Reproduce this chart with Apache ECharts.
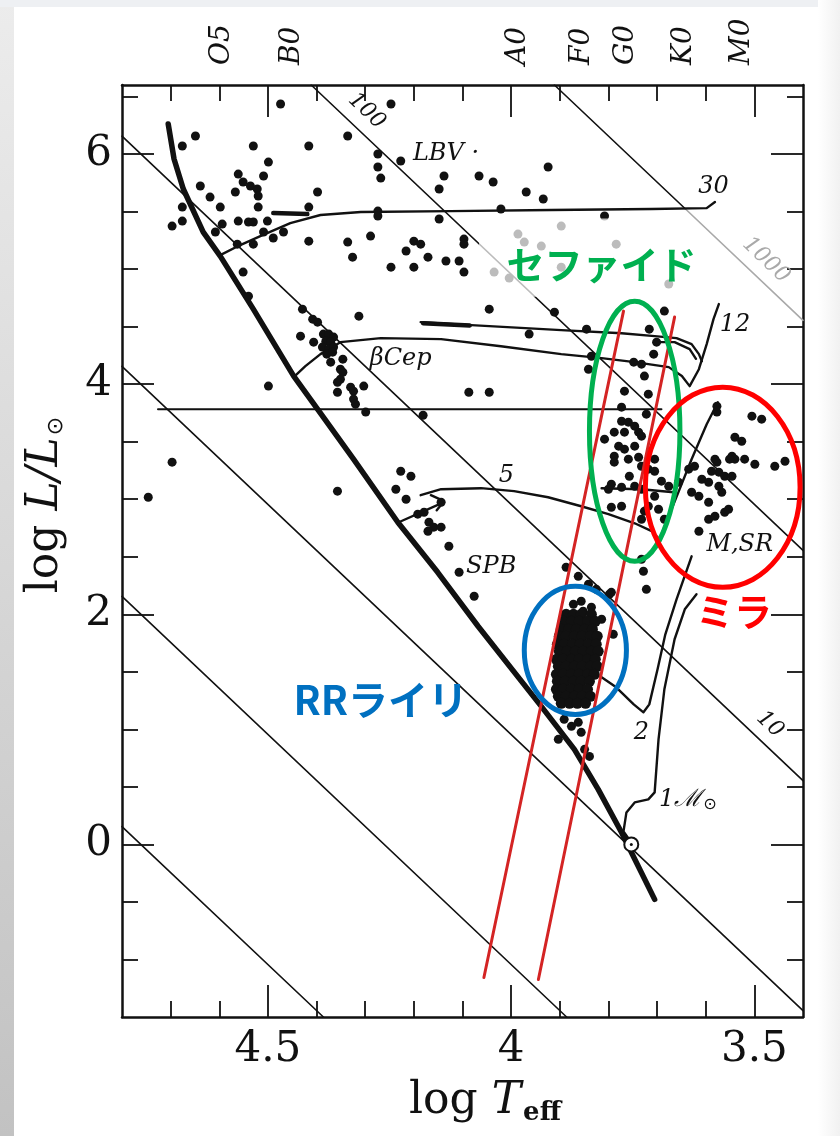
<!DOCTYPE html>
<html><head><meta charset="utf-8">
<script src="https://cdn.jsdelivr.net/npm/echarts@6/dist/echarts.min.js"></script>
<style>
html,body{margin:0;padding:0;background:#fff;}
#wrap{position:relative;width:840px;height:1136px;overflow:hidden;background:#fff;}
#lstrip{position:absolute;left:0;top:0;width:14px;height:1136px;background:linear-gradient(#ececec,#c2c2c2);}
#tstrip{position:absolute;left:0;top:0;width:840px;height:7px;background:#eef0f3;}
#rstrip{position:absolute;right:0;top:0;width:22px;height:1136px;background:linear-gradient(90deg,#ffffff,#f1f1f1);}
#chart{position:absolute;left:0;top:0;width:840px;height:1136px;}
</style></head>
<body><div id="wrap"><div id="lstrip"></div><div id="tstrip"></div><div id="rstrip"></div><div id="chart"></div></div>
<script>
// ---------- axis ticks & labels ----------
const xMajorTicks = [3.5, 4.0, 4.5];
const xMinorTicks = [3.6, 3.7, 3.8, 3.9, 4.1, 4.2, 4.3, 4.4, 4.6, 4.7];
const yMajorTicks = [0, 2, 4, 6];
const yMinorTicks = [-1, -0.5, 0.5, 1, 1.5, 2.5, 3, 3.5, 4.5, 5, 5.5, 6.5];
const spectralTypes = ['O5', 'B0', 'A0', 'F0', 'G0', 'K0', 'M0'];
const spectralLogT = [4.594, 4.452, 3.987, 3.854, 3.764, 3.645, 3.526];

// ---------- constant-radius lines [logT, logL] ----------
const radiusLines = [
  [[4.8, 0.155], [4.386, -1.5]],
  [[4.8, 2.155], [3.886, -1.5]],
  [[4.8, 4.155], [3.4, -1.445]],
  [[4.8, 6.155], [3.4, 0.555]],
  [[4.411, 6.6], [3.4, 2.555]],
  [[3.911, 6.6], [3.641, 5.52]]
];
const radius1000Faint = [[3.641, 5.52], [3.4, 4.555]];
const horizLine = [[4.726, 3.783], [3.691, 3.783]];

// ---------- ZAMS & tracks ----------
const zams = [[4.705,6.261],[4.693,5.957],[4.674,5.696],[4.633,5.322],[4.598,5.113],[4.530,4.652],[4.447,4.070],[4.398,3.783],[4.324,3.348],[4.233,2.800],[4.151,2.365],[4.068,1.896],[3.938,1.200],[3.870,0.826],[3.821,0.478],[3.773,0.104],[3.705,-0.478]];
const track30 = [[4.598,5.122],[4.557,5.209],[4.511,5.296],[4.454,5.400],[4.392,5.470],[4.309,5.496],[4.124,5.504],[3.918,5.513],[3.711,5.522],[3.598,5.530],[3.581,5.583]];
const track30Wedge = [[4.489,5.487],[4.419,5.478]];
const track12 = [[4.447,4.061],[4.423,4.157],[4.392,4.261],[4.351,4.365],[4.268,4.400],[4.144,4.391],[4.021,4.330],[3.897,4.261],[3.814,4.226],[3.746,4.191],[3.676,4.148],[3.649,4.070],[3.633,3.983],[3.614,4.130],[3.598,4.348],[3.584,4.565],[3.573,4.696]];
const track12Loop = [[4.186,4.539],[4.082,4.513],[3.897,4.470],[3.773,4.443],[3.705,4.417],[3.660,4.400],[3.629,4.348],[3.614,4.261],[3.608,4.200]];
const track12Loop2 = [[3.705,4.365],[3.664,4.365],[3.633,4.304],[3.620,4.220]];
const track12Wedge = [[4.181,4.530],[4.085,4.510]];
const track5Arrow = [[4.231,2.800],[4.138,2.974]];
const track5Head = [[4.165,3.035],[4.138,2.983],[4.153,2.904]];
const track5 = [[4.186,3.035],[4.144,3.087],[4.062,3.096],[3.994,3.070],[3.924,3.017],[3.856,2.939],[3.800,2.870],[3.746,2.791],[3.711,2.722],[3.695,2.652],[3.666,2.957],[3.629,3.348],[3.598,3.652],[3.575,3.843]];
const track5Loop = [[3.814,3.096],[3.732,3.087],[3.666,3.061]];
const track2 = [[3.845,1.504],[3.814,1.452],[3.784,1.365],[3.748,1.217],[3.728,1.148],[3.716,1.217],[3.699,1.522],[3.683,1.826],[3.660,2.130],[3.629,2.504]];
const track1 = [[3.753,0.017],[3.769,0.113],[3.763,0.278],[3.746,0.365],[3.718,0.391],[3.705,0.452],[3.697,0.913],[3.685,1.348],[3.664,1.783],[3.643,2.043],[3.619,2.174]];
const sunPoint = [[3.753, 0.0]];

// ---------- stars ----------
const starsUpper = [[4.474,6.435],[4.247,6.435],[4.649,6.157],[4.676,6.070],[4.530,6.070],[4.416,6.070],[4.336,6.157],[4.274,6.0],[4.227,5.939],[4.499,5.930],[4.509,5.809],[4.561,5.826],[4.274,5.887],[4.268,5.791],[4.138,5.809],[4.066,5.809],[4.148,5.696],[4.551,5.757],[4.536,5.722],[4.522,5.696],[4.520,5.635],[4.639,5.722],[4.567,5.670],[4.619,5.626],[4.398,5.670],[4.598,5.539],[4.676,5.539],[4.520,5.539],[4.416,5.539],[4.274,5.504],[4.274,5.461],[4.148,5.435],[4.697,5.374],[4.676,5.417],[4.594,5.391],[4.561,5.417],[4.540,5.409],[4.530,5.409],[4.501,5.417],[4.608,5.322],[4.509,5.322],[4.489,5.270],[4.468,5.322],[4.563,5.217],[4.530,5.217],[4.416,5.243],[4.336,5.235],[4.289,5.287],[4.200,5.243],[4.186,5.217],[4.216,5.157],[4.097,5.261],[4.097,5.217],[4.326,5.104],[4.171,5.104],[4.247,5.017],[4.200,5.017],[4.134,5.070],[4.107,5.070],[4.097,4.974],[4.551,4.974],[4.540,4.765],[4.313,4.591],[4.037,5.757],[3.924,5.887],[3.969,5.670],[3.934,5.609],[4.021,5.522],[3.808,5.461],[4.045,4.652],[3.911,4.626]];
const starsFaded = [[3.897,5.374],[3.986,5.304],[3.973,5.235],[3.938,5.200],[3.784,5.217],[4.035,4.974],[4.004,4.922],[3.897,5.017],[3.676,4.870]];
const starsBetaCep = [[4.429,4.652],[4.408,4.565],[4.398,4.539],[4.433,4.417],[4.406,4.365],[4.386,4.435],[4.375,4.435],[4.365,4.409],[4.381,4.374],[4.371,4.365],[4.388,4.322],[4.375,4.304],[4.365,4.322],[4.379,4.261],[4.367,4.278],[4.371,4.191],[4.346,4.217],[4.351,4.130],[4.346,4.104],[4.351,4.043],[4.357,4.017],[4.357,3.930],[4.330,3.974],[4.324,3.939],[4.303,3.983],[4.324,3.870],[4.320,3.826],[4.299,3.757],[4.499,3.983],[4.087,3.930],[4.045,3.930],[4.181,3.730],[4.697,3.322],[4.746,3.017],[4.357,3.070]];
const starsSPB = [[4.227,3.243],[4.206,3.200],[4.237,3.087],[4.216,3.0],[4.144,2.974],[4.192,2.870],[4.179,2.887],[4.169,2.800],[4.159,2.757],[4.144,2.757],[4.171,2.722],[4.128,2.591],[4.107,2.365],[4.076,2.157]];
const starsCepheid = [[3.963,4.435],[3.845,4.478],[3.685,4.635],[3.716,4.478],[3.701,4.365],[3.707,4.261],[3.835,4.243],[3.748,4.191],[3.732,4.174],[3.841,4.130],[3.726,4.070],[3.767,3.939],[3.718,3.913],[3.773,3.800],[3.722,3.739],[3.773,3.678],[3.759,3.670],[3.746,3.635],[3.788,3.583],[3.767,3.583],[3.738,3.583],[3.808,3.522],[3.732,3.548],[3.779,3.461],[3.767,3.435],[3.746,3.461],[3.788,3.374],[3.759,3.348],[3.738,3.365],[3.788,3.322],[3.732,3.287],[3.718,3.261],[3.705,3.348],[3.705,3.243],[3.757,3.200],[3.794,3.130],[3.773,3.104],[3.800,3.087],[3.746,3.113],[3.732,3.087],[3.691,3.157],[3.705,3.026],[3.794,2.930],[3.773,2.939],[3.726,2.896],[3.697,2.913],[3.685,2.826],[3.718,2.939],[3.732,2.826],[3.732,2.478],[3.728,2.374],[3.722,2.217],[3.676,3.113]];
const starsRRLyrSparse = [[3.887,2.409],[3.862,2.330],[3.841,2.261],[3.825,2.217],[3.798,2.174],[3.872,2.087],[3.856,2.113],[3.835,2.061],[3.852,2.026],[3.814,1.957],[3.790,1.826],[3.794,2.191],
  [3.891,1.087],[3.876,1.026],[3.862,1.061],[3.856,0.974],[3.903,0.913],[3.849,0.826],[3.839,0.765]];
const starsRRLyrCore = [
  [3.887,2.0],[3.872,2.0],[3.856,2.0],[3.835,2.0],
  [3.893,1.939],[3.876,1.939],[3.860,1.939],[3.843,1.939],[3.827,1.939],
  [3.897,1.870],[3.882,1.870],[3.866,1.870],[3.849,1.870],[3.833,1.870],
  [3.901,1.809],[3.887,1.809],[3.870,1.809],[3.854,1.809],[3.837,1.809],[3.823,1.809],
  [3.905,1.739],[3.891,1.739],[3.874,1.739],[3.858,1.739],[3.841,1.739],[3.825,1.739],
  [3.901,1.678],[3.885,1.678],[3.868,1.678],[3.852,1.678],[3.835,1.678],[3.821,1.678],
  [3.907,1.609],[3.893,1.609],[3.876,1.609],[3.860,1.609],[3.843,1.609],[3.827,1.609],
  [3.903,1.548],[3.887,1.548],[3.870,1.548],[3.854,1.548],[3.837,1.548],[3.823,1.548],
  [3.907,1.478],[3.893,1.478],[3.876,1.478],[3.860,1.478],[3.843,1.478],[3.829,1.478],
  [3.905,1.417],[3.889,1.417],[3.872,1.417],[3.856,1.417],[3.839,1.417],
  [3.907,1.348],[3.893,1.348],[3.876,1.348],[3.860,1.348],[3.843,1.348],
  [3.903,1.287],[3.887,1.287],[3.870,1.287],[3.854,1.287],[3.837,1.287],
  [3.897,1.226],[3.880,1.226],[3.864,1.226],[3.847,1.226]];
const starsMira = [[3.505,3.722],[3.485,3.696],[3.540,3.539],[3.526,3.504],[3.546,3.374],[3.540,3.348],[3.581,3.348],[3.577,3.322],[3.520,3.348],[3.499,3.304],[3.458,3.287],[3.437,3.330],[3.635,3.261],[3.623,3.287],[3.573,3.235],[3.561,3.200],[3.608,3.174],[3.594,3.148],[3.573,3.113],[3.567,3.061],[3.546,3.200],[3.629,3.061],[3.614,3.026],[3.594,2.974],[3.561,2.887],[3.553,2.913],[3.594,2.826],[3.581,2.852],[3.614,2.722],[3.656,3.148],[3.577,3.757],[3.577,3.809],[3.551,3.348],[3.588,3.243]];

// ---------- annotations: instability strip edges, ellipses, faded box ----------
const stripHotEdge = [[4.056,-1.157],[3.769,4.635]];
const stripCoolEdge = [[3.944,-1.174],[3.664,4.583]];
// [centre logT, centre logL, half-width logT, half-height logL]
const ellipseCepheid = [3.746, 3.591, 0.093, 1.130];
const ellipseMira = [3.565, 3.104, 0.159, 0.870];
const ellipseRRLyr = [3.868, 1.687, 0.105, 0.557];
const ellipseColors = ['#00b050', '#ff0000', '#0070c0'];
// corners [logT, logL] of the semi-transparent patch behind the Cepheid caption
const fadeBox = [4.066, 5.44, 3.64, 4.76];

// text, logT, logL, rotation
const trackNotes = [
  ['100', 4.297, 6.374, -43.5],
  ['LBV ·', 4.134, 6.0, 0],
  ['30', 3.584, 5.713, 0],
  ['12', 3.540, 4.513, 0],
  ['βCep', 4.227, 4.217, 0],
  ['5', 4.010, 3.200, 0],
  ['SPB', 4.041, 2.409, 0],
  ['M,SR', 3.530, 2.600, 0],
  ['10', 3.468, 1.043, -43.5],
  ['2', 3.732, 0.974, 0]
];
const faintNote = ['1000', 3.476, 5.078, -43.5];
const massSunNote = ['1ℳ', 3.637, 0.391];
const classNames = ['セファイド', 'RRライリ', 'ミラ'];
const classLogT = [3.814, 4.268, 3.542];
const classLogL = [5.043, 1.261, 2.026];
const classSizes = [38, 40, 38];
const classColors = ['#00b050', '#0070c0', '#ff0000'];

// ---------- build chart ----------
const chart = echarts.init(document.getElementById('chart'), null, {renderer: 'canvas'});
const INK = '#111111';
const serif = 'DejaVu Serif';

function xAx(pos, ticks, len, label, line) {
  return {
    type: 'value', gridIndex: 0, position: pos, min: 3.4, max: 4.8, inverse: true,
    splitLine: {show: false},
    axisLine: {show: !!line, onZero: false, lineStyle: {color: INK, width: 2.5}},
    axisTick: {show: true, inside: true, length: len, customValues: ticks, lineStyle: {color: INK, width: 1.8}},
    axisLabel: label || {show: false}
  };
}
function yAx(pos, ticks, len, label, line) {
  return {
    type: 'value', gridIndex: 0, position: pos, min: -1.5, max: 6.6,
    splitLine: {show: false},
    axisLine: {show: !!line, onZero: false, lineStyle: {color: INK, width: 2.5}},
    axisTick: {show: true, inside: true, length: len, customValues: ticks, lineStyle: {color: INK, width: 1.8}},
    axisLabel: label || {show: false}
  };
}

const xLabelBottom = {
  show: true, customValues: xMajorTicks, margin: 12,
  formatter: v => (Math.abs(v - 4) < 1e-6 ? '4' : v.toFixed(1)),
  fontFamily: serif, fontSize: 42, color: INK
};
const xLabelTop = {
  show: true, customValues: spectralLogT, margin: 20, rotate: -90,
  formatter: v => { const i = spectralLogT.findIndex(s => Math.abs(s - v) < 1e-6); return i >= 0 ? spectralTypes[i] : ''; },
  fontFamily: serif, fontStyle: 'italic', fontSize: 28, color: INK
};
const yLabelLeft = {
  show: true, customValues: yMajorTicks, margin: 10,
  formatter: v => String(Math.round(v)),
  fontFamily: serif, fontSize: 42, color: INK
};

function line(data, width, color, z) {
  return {type: 'line', data: data, symbol: 'none', showSymbol: false, silent: true, animation: false,
          lineStyle: {color: color || INK, width: width, cap: 'round', join: 'round', opacity: 1}, z: z || 2, xAxisIndex: 0, yAxisIndex: 0};
}
function dots(data, size, z) {
  return {type: 'scatter', data: data, symbol: 'circle', symbolSize: size, silent: true, animation: false,
          itemStyle: {color: INK, opacity: 1}, z: z || 3, xAxisIndex: 0, yAxisIndex: 0};
}

const series = [];
radiusLines.forEach(seg => series.push(line(seg, 1.6)));
series.push(line(radius1000Faint, 1.6, '#a9a9a9'));
series.push(line(horizLine, 2));
series.push(line(zams, 5.5));
[track30, track12, track12Loop, track12Loop2, track5, track5Loop, track5Arrow, track5Head, track2, track1].forEach(t => series.push(line(t, 2.4)));
[track30Wedge, track12Wedge].forEach(t => series.push(line(t, 4.5)));
[starsUpper, starsFaded, starsBetaCep, starsSPB, starsCepheid, starsMira, starsRRLyrSparse].forEach(s => series.push(dots(s, 9)));
series.push(dots(starsRRLyrCore, 11));
series.push({type: 'scatter', data: sunPoint, symbol: 'circle', symbolSize: 14, silent: true, animation: false,
  itemStyle: {color: '#fff', borderColor: INK, borderWidth: 2, opacity: 1}, z: 3});
series.push({type: 'scatter', data: sunPoint, symbol: 'circle', symbolSize: 3, silent: true, animation: false,
  itemStyle: {color: INK, opacity: 1}, z: 3});

// in-plot italic notes
series.push({
  type: 'scatter', symbol: 'circle', symbolSize: 1, silent: true, animation: false, z: 4,
  itemStyle: {color: 'rgba(0,0,0,0)', opacity: 1},
  data: trackNotes.map(n => ({value: [n[1], n[2]], label: {show: true, position: 'inside', formatter: n[0], rotate: n[3],
    fontFamily: serif, fontStyle: 'italic', fontSize: n[3] ? 22 : 24, color: INK, opacity: 1}}))
    .concat([{value: [faintNote[1], faintNote[2]], label: {show: true, position: 'inside', formatter: faintNote[0], rotate: faintNote[3],
      fontFamily: serif, fontStyle: 'italic', fontSize: 22, color: '#a9a9a9', opacity: 1}},
      {value: [massSunNote[1], massSunNote[2]], label: {show: true, position: 'inside', opacity: 1, formatter: '{m|' + massSunNote[0] + '}{s|⊙}',
        rich: {m: {fontFamily: serif, fontStyle: 'italic', fontSize: 24, color: INK},
               s: {fontFamily: 'DejaVu Sans', fontSize: 16, color: INK, padding: [10, 0, 0, 1]}}}}])
});

// faded patch (semi-transparent white box behind the Cepheid caption)
series.push({
  type: 'custom', silent: true, animation: false, z: 5,
  data: [fadeBox],
  renderItem: function (params, api) {
    const a = api.coord([api.value(0), api.value(1)]);
    const b = api.coord([api.value(2), api.value(3)]);
    return {type: 'rect', shape: {x: Math.min(a[0], b[0]), y: Math.min(a[1], b[1]),
            width: Math.abs(b[0] - a[0]), height: Math.abs(b[1] - a[1])},
            style: {fill: 'rgba(255,255,255,0.72)'}};
  }
});

series.push(line(stripHotEdge, 3, '#d42424', 6));
series.push(line(stripCoolEdge, 3, '#d42424', 6));

series.push({
  type: 'custom', silent: true, animation: false, z: 7,
  data: [ellipseCepheid, ellipseMira, ellipseRRLyr],
  renderItem: function (params, api) {
    const c = api.coord([api.value(0), api.value(1)]);
    const s = api.size([api.value(2), api.value(3)]);
    return {type: 'ellipse', shape: {cx: c[0], cy: c[1], rx: Math.abs(s[0]), ry: Math.abs(s[1])},
            style: {fill: 'none', stroke: ellipseColors[params.dataIndex], lineWidth: 5}};
  }
});

series.push({
  type: 'scatter', symbol: 'circle', symbolSize: 1, silent: true, animation: false, z: 8,
  itemStyle: {color: 'rgba(0,0,0,0)', opacity: 1},
  data: classNames.map((t, i) => ({value: [classLogT[i], classLogL[i]], label: {show: true, position: 'inside', formatter: t,
    fontFamily: 'Noto Sans CJK JP', fontWeight: 'bold', fontSize: classSizes[i], color: classColors[i], opacity: 1}}))
});

chart.setOption({
  animation: false,
  backgroundColor: 'transparent',
  grid: {left: 122, right: 37, top: 85, bottom: 119, containLabel: false},
  xAxis: [
    xAx('bottom', xMajorTicks, 32, xLabelBottom, true),
    xAx('bottom', xMinorTicks, 16, null, false),
    xAx('top', xMajorTicks, 32, xLabelTop, true),
    xAx('top', xMinorTicks, 16, null, false)
  ],
  yAxis: [
    yAx('left', yMajorTicks, 32, yLabelLeft, true),
    yAx('left', yMinorTicks, 16, null, false),
    yAx('right', yMajorTicks, 32, null, true),
    yAx('right', yMinorTicks, 16, null, false)
  ],
  graphic: [
    {type: 'text', x: 485, y: 1102, silent: true,
     style: {text: '{a|log }{b|T}{c|eff}', align: 'center', verticalAlign: 'middle',
       rich: {a: {fontFamily: serif, fontSize: 44, fill: INK, lineHeight: 50},
              b: {fontFamily: serif, fontStyle: 'italic', fontSize: 44, fill: INK, lineHeight: 50},
              c: {fontFamily: serif, fontWeight: 'bold', fontSize: 26, fill: INK, lineHeight: 50, padding: [22, 0, 0, 2]}}}},
    {type: 'text', x: 46, y: 505, rotation: Math.PI / 2, silent: true,
     style: {text: '{a|log }{b|L/L}{c|⊙}', align: 'center', verticalAlign: 'middle',
       rich: {a: {fontFamily: serif, fontSize: 44, fill: INK, lineHeight: 50},
              b: {fontFamily: serif, fontStyle: 'italic', fontSize: 44, fill: INK, lineHeight: 50},
              c: {fontFamily: 'DejaVu Sans', fontSize: 22, fill: INK, lineHeight: 50, padding: [20, 0, 0, 2]}}}}
  ],
  series: series
});
</script>
</body></html>
